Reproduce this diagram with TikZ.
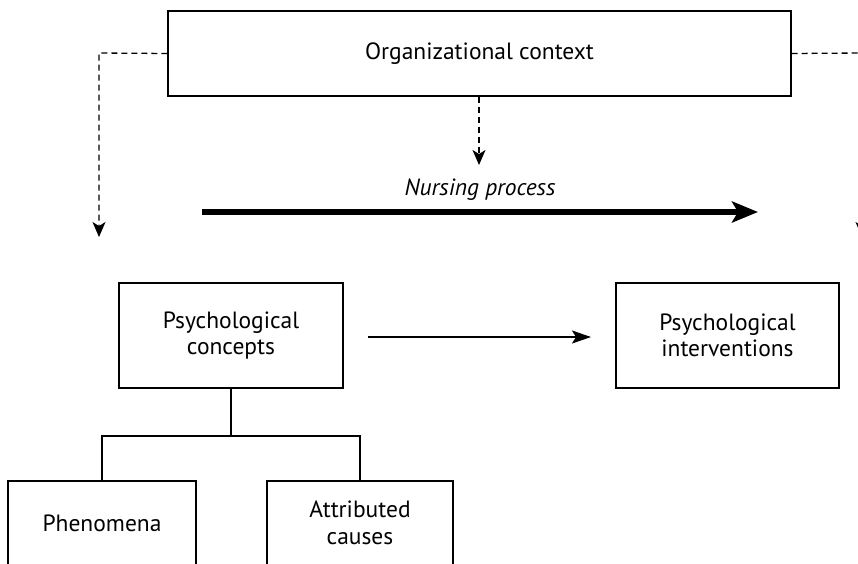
\documentclass[tikz,border=0pt]{standalone}
\usepackage{fontspec}
\setmainfont{PT Sans}
\usetikzlibrary{arrows.meta}
\begin{document}
\begin{tikzpicture}[x=1pt,y=-1pt,
  box/.style={draw=black,line width=1.2pt,rectangle,inner sep=0pt,align=center,
    font=\fontsize{23.5}{26.5}\selectfont},
  dasharrow/.style={line width=1.3pt,dash pattern=on 6pt off 4pt,
    -{Stealth[length=15pt,width=13pt,inset=4pt]}},
  mainarrow/.style={line width=6pt,-{Stealth[length=26pt,width=21pt,inset=6pt]}},
  linkarrow/.style={line width=1.5pt,-{Stealth[length=19pt,width=13pt,inset=4pt]}},
  tree/.style={line width=1.2pt}]
\useasboundingbox (0,0) rectangle (858,563);
\clip (0,0) rectangle (858,563);

% context box at the top
\node[box,minimum width=623pt,minimum height=85pt] (org) at (479.5,53.5) {Organizational context};

% dashed influences from the context
\coordinate (lbend) at (99,53);
\coordinate (ltip) at (99,237);
\coordinate (rbend) at (862,53);
\coordinate (rtip) at (862,237);
\coordinate (mtip) at (479,165);
\draw[dasharrow] (org.west) -- (lbend) -- (ltip);
\draw[dasharrow] (org.east) -- (rbend) -- (rtip);
\draw[dasharrow] (org.south -| mtip) -- (mtip);

% nursing process arrow
\coordinate (npstart) at (202,212);
\coordinate (npend) at (758,212);
\draw[mainarrow] (npstart) -- (npend);
\node[font=\fontsize{23.5}{26.5}\selectfont\itshape] (nplabel) at (480,190) {Nursing process};

% concepts and interventions
\node[box,minimum width=224pt,minimum height=105pt] (concepts) at (231,335.5) {Psychological\\concepts};
\node[box,minimum width=223pt,minimum height=105pt] (interv) at (727.5,335.5) {Psychological\\interventions};
\coordinate (lkstart) at (368,337);
\coordinate (lkend) at (591,337);
\draw[linkarrow] (lkstart) -- (lkend);

% sub-concepts
\node[box,minimum width=188pt,minimum height=84pt] (phen) at (102,523) {Phenomena};
\node[box,minimum width=186pt,minimum height=84pt] (causes) at (360,523) {Attributed\\causes};
\coordinate (fork) at (231,436);
\draw[tree] (concepts.south) -- (fork);
\draw[tree] (phen.north) |- (fork) -| (causes.north);
\end{tikzpicture}
\end{document}
